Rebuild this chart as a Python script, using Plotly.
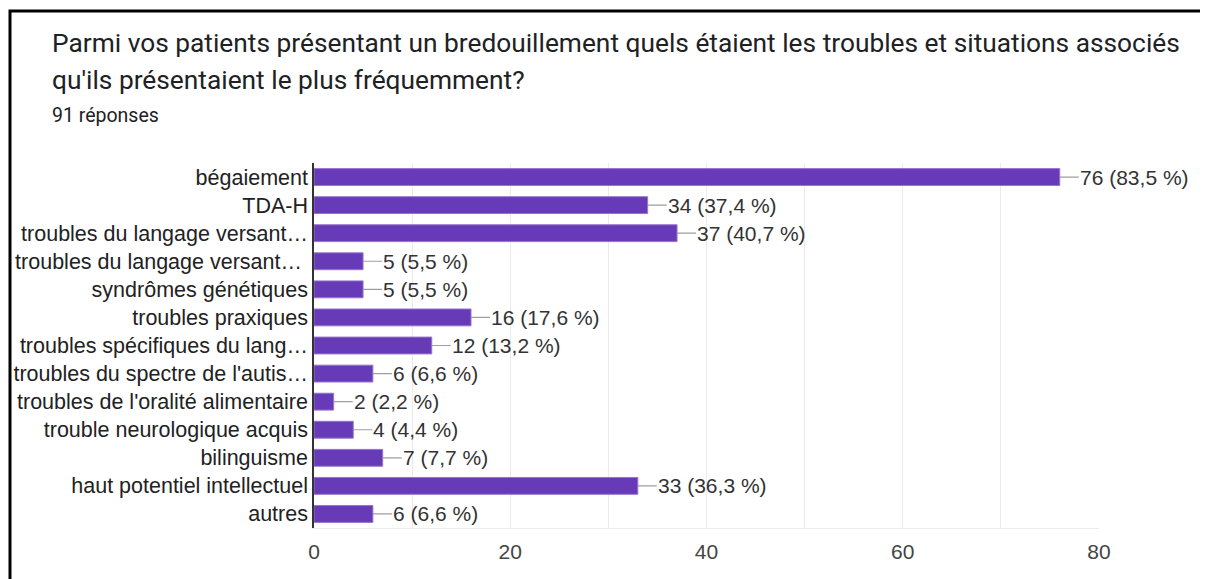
import plotly.graph_objects as go

categories = [
    "bégaiement",
    "TDA-H",
    "troubles du langage versant…",
    "troubles du langage versant… ",
    "syndrômes génétiques",
    "troubles praxiques",
    "troubles spécifiques du lang…",
    "troubles du spectre de l'autis…",
    "troubles de l'oralité alimentaire",
    "trouble neurologique acquis",
    "bilinguisme",
    "haut potentiel intellectuel",
    "autres",
]
counts = [76, 34, 37, 5, 5, 16, 12, 6, 2, 4, 7, 33, 6]
percents = ["83,5", "37,4", "40,7", "5,5", "5,5", "17,6", "13,2", "6,6", "2,2", "4,4", "7,7", "36,3", "6,6"]

title_line1 = "Parmi vos patients présentant un bredouillement quels étaient les troubles et situations associés"
title_line2 = "qu'ils présentaient le plus fréquemment?"
subtitle = "91 réponses"

OFF = 8  # browser body margin
WIN_W, WIN_H = 1208, 579
W, H = WIN_W - OFF, WIN_H - OFF
# plot area in window pixels: x 314..1099, y 163..528
L = 314 - OFF
R = WIN_W - 1099
T = 163 - OFF
B = WIN_H - 528
pw, ph = W - L - R, H - T - B

def px_x(px):
    return (px - OFF - L) / pw

def px_y(py):
    return (H - B - (py - OFF)) / ph

fig = go.Figure()
fig.add_trace(go.Bar(
    x=counts, y=categories, orientation="h",
    marker=dict(color="#673ab7", line=dict(color="#9575cd", width=1)),
    width=0.6, hoverinfo="skip",
))

annotations = []
for c, v, p in zip(categories, counts, percents):
    annotations.append(dict(
        x=v, y=c, xref="x", yref="y",
        text=f"{v} ({p} %)", showarrow=True, arrowhead=0, arrowwidth=1.2,
        arrowcolor="#9e9e9e", ax=19, ay=0, xanchor="left", yanchor="middle",
        borderpad=0, standoff=0,
        font=dict(family="Liberation Sans, Arial", size=21, color="#333333"),
    ))

font_title = "Roboto"
annotations += [
    dict(x=px_x(50), y=px_y(43), xref="paper", yref="paper", text=title_line1,
         showarrow=False, xanchor="left", yanchor="middle",
         font=dict(family=font_title, size=26.3, color="#202124")),
    dict(x=px_x(50), y=px_y(80), xref="paper", yref="paper", text=title_line2,
         showarrow=False, xanchor="left", yanchor="middle",
         font=dict(family=font_title, size=26.3, color="#202124")),
    dict(x=px_x(50), y=px_y(115), xref="paper", yref="paper", text=subtitle,
         showarrow=False, xanchor="left", yanchor="middle",
         font=dict(family=font_title, size=19.5, color="#202124")),
]

# open border: left edge and top edge only
xl, xr = px_x(10), px_x(WIN_W + 10)
yt, yb = px_y(11), px_y(WIN_H + 10)
border_path = f"M {xl},{yb} L {xl},{yt} L {xr},{yt}"
shapes = [
    dict(type="path", xref="paper", yref="paper", path=border_path,
         line=dict(color="black", width=3), fillcolor="rgba(0,0,0,0)"),
]

fig.update_layout(
    width=W, height=H,
    margin=dict(l=L, r=R, t=T, b=B, autoexpand=False),
    paper_bgcolor="white", plot_bgcolor="white",
    showlegend=False, bargap=0.4,
    annotations=annotations, shapes=shapes,
    xaxis=dict(
        range=[0, 80], dtick=20, tick0=0, showgrid=True, gridcolor="#ebebeb",
        gridwidth=1, zeroline=False, showline=True, linecolor="#ebebeb",
        ticks="outside", ticklen=5, tickcolor="rgba(0,0,0,0)",
        tickfont=dict(family="Liberation Sans, Arial", size=21, color="#444444"),
        minor=dict(dtick=10, showgrid=True, gridcolor="#ebebeb", gridwidth=1),
        fixedrange=True,
    ),
    yaxis=dict(
        autorange="reversed", showgrid=False, zeroline=False,
        showline=True, linecolor="#333333", linewidth=1.5,
        ticks="",
        tickfont=dict(family="Liberation Sans, Arial", size=21.5, color="#222222"),
        fixedrange=True,
    ),
)

fig.write_html("out.html", config={"displayModeBar": False})
